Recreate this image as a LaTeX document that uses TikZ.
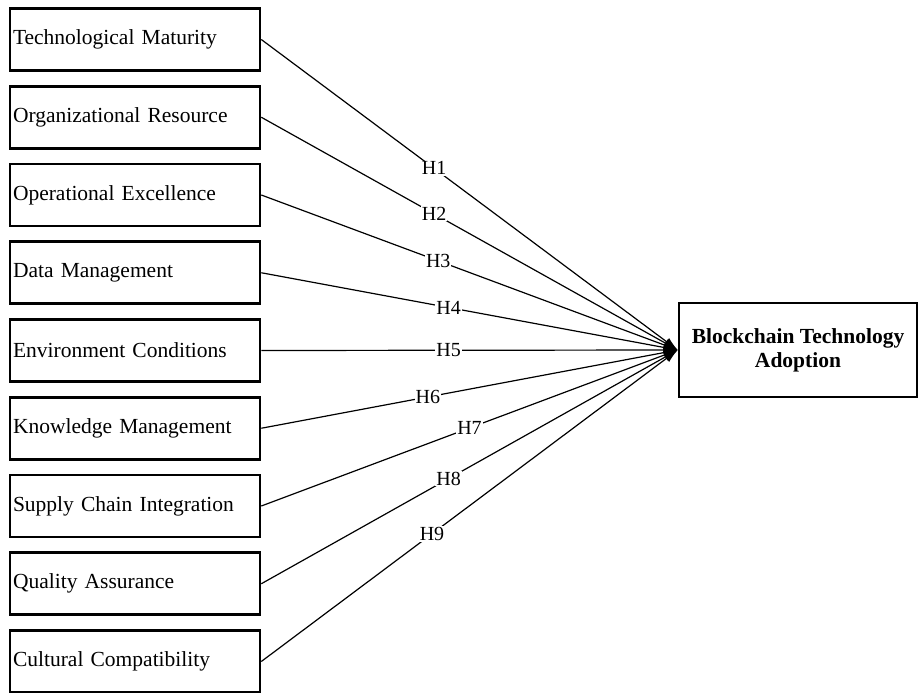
\documentclass[tikz,border=0pt]{standalone}
\usepackage{fontspec}
\setmainfont{Liberation Serif}
\usetikzlibrary{arrows.meta}
\begin{document}
\begin{tikzpicture}[x=1pt,y=-1pt,
  leftbox/.style={draw,line width=2.6pt,minimum width=250pt,minimum height=62pt,text width=244pt,align=left,inner xsep=2pt,font=\fontsize{21.5}{25}\selectfont,anchor=center},
  rightbox/.style={draw,line width=2.6pt,minimum width=238pt,minimum height=94pt,align=center,font=\fontsize{21.5}{24}\selectfont\bfseries},
  conn/.style={line width=1.2pt,-{Latex[length=14pt,width=9pt]}},
  hlab/.style={fill=white,inner sep=1pt,font=\fontsize{20}{22}\selectfont}]
\useasboundingbox (0,0) rectangle (919,693);
\node[leftbox] (b1) at (135,39.5) {Technological Maturity};
\node[leftbox] (b2) at (135,117.25) {Organizational Resource};
\node[leftbox] (b3) at (135,195) {Operational Excellence};
\node[leftbox] (b4) at (135,272.75) {Data Management};
\node[leftbox] (b5) at (135,350.5) {Environment Conditions};
\node[leftbox] (b6) at (135,428.25) {Knowledge Management};
\node[leftbox] (b7) at (135,506) {Supply Chain Integration};
\node[leftbox] (b8) at (135,583.75) {Quality Assurance};
\node[leftbox] (b9) at (135,661.5) {Cultural Compatibility};
\node[rightbox] (bt) at (798,350) {Blockchain Technology\\Adoption};
\draw[conn] (b1.east) -- node[hlab,pos=0.415]{H1} (bt.west);
\draw[conn] (b2.east) -- node[hlab,pos=0.415]{H2} (bt.west);
\draw[conn] (b3.east) -- node[hlab,pos=0.425]{H3} (bt.west);
\draw[conn] (b4.east) -- node[hlab,pos=0.45]{H4} (bt.west);
\draw[conn] (b5.east) -- node[hlab,pos=0.45]{H5} (bt.west);
\draw[conn] (b6.east) -- node[hlab,pos=0.40]{H6} (bt.west);
\draw[conn] (b7.east) -- node[hlab,pos=0.50]{H7} (bt.west);
\draw[conn] (b8.east) -- node[hlab,pos=0.45]{H8} (bt.west);
\draw[conn] (b9.east) -- node[hlab,pos=0.41]{H9} (bt.west);
\end{tikzpicture}
\end{document}
